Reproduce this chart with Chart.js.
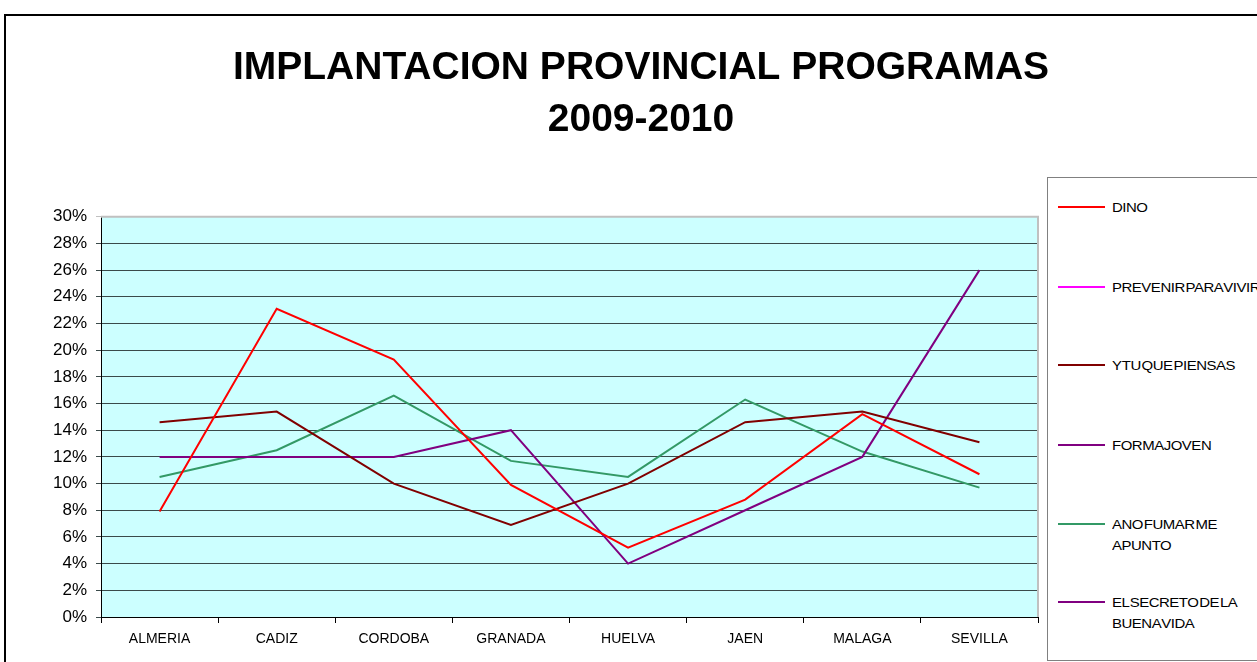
<!DOCTYPE html>
<html>
<head>
<meta charset="utf-8">
<script src="https://cdn.jsdelivr.net/npm/chart.js@4.4.0/dist/chart.umd.min.js"></script>
<style>
  body { margin: 0; background: #fff; width: 1257px; height: 662px; overflow: hidden; position: relative; font-family: "Liberation Sans", Arial, sans-serif; }
  #frame { position: absolute; left: 4px; top: 14px; width: 1300px; height: 700px; border: 2px solid #000; }
  #wrap { position: absolute; left: 0; top: 0; width: 1257px; height: 662px; }
  #legend { position: absolute; left: 1047px; top: 177px; width: 240px; height: 482px; border: 1px solid #808080; background: #fff; }
  .item { position: absolute; left: 10px; }
  .item .sw { position: absolute; left: 0; top: 9px; width: 47px; height: 2px; }
  .item .tx { position: absolute; left: 54px; top: 0; font-size: 13px; line-height: 21px; letter-spacing: -0.4px; word-spacing: -2.5px; white-space: nowrap; color: #000; transform: scaleX(1.15); transform-origin: 0 0; }
</style>
</head>
<body>
<div id="frame"></div>
<div id="wrap"><canvas id="myChart"></canvas></div>
<div id="legend"></div>
<script>
// categories
const provincias = ["ALMERIA", "CADIZ", "CORDOBA", "GRANADA", "HUELVA", "JAEN", "MALAGA", "SEVILLA"];

// series values (%)
const dino = [7.9, 23.1, 19.3, 9.9, 5.2, 8.8, 15.2, 10.7];
const prevenirParaVivir = [null, null, null, null, null, null, null, null];
const yTuQuePiensas = [14.6, 15.4, 10.0, 6.9, 10.0, 14.6, 15.4, 13.1];
const formaJoven = [12, 12, 12, 14, 4, 8, 12, 26];
const aNoFumar = [10.5, 12.5, 16.6, 11.7, 10.5, 16.3, 12.4, 9.7];
const elSecreto = [null, null, null, null, null, null, null, null];

// y axis ticks
const yMin = 0, yMax = 30, yStep = 2;

const series = [
  { label: "DINO", legend: ["DINO"], data: dino, color: "#FF0000" },
  { label: "PREVENIR PARA VIVIR", legend: ["PREVENIR PARA VIVIR"], data: prevenirParaVivir, color: "#FF00FF" },
  { label: "Y TU QUE PIENSAS", legend: ["Y TU QUE PIENSAS"], data: yTuQuePiensas, color: "#800000" },
  { label: "FORMA JOVEN", legend: ["FORMA JOVEN"], data: formaJoven, color: "#800080" },
  { label: "A NO FUMAR ME APUNTO", legend: ["A NO FUMAR ME", "APUNTO"], data: aNoFumar, color: "#339966" },
  { label: "EL SECRETO DE LA BUENA VIDA", legend: ["EL SECRETO DE LA", "BUENA VIDA"], data: elSecreto, color: "#800080" }
];

const plotBg = {
  id: 'plotBg',
  beforeDraw(chart) {
    const {ctx, chartArea: a} = chart;
    ctx.save();
    ctx.fillStyle = '#CCFFFF';
    ctx.fillRect(a.left, a.top, a.right - a.left, a.bottom - a.top);
    ctx.restore();
  },
  afterDraw(chart) {
    const {ctx, chartArea: a} = chart;
    ctx.save();
    ctx.strokeStyle = '#C0C0C0';
    ctx.lineWidth = 2;
    ctx.beginPath();
    ctx.moveTo(a.left, a.top);
    ctx.lineTo(a.right, a.top);
    ctx.lineTo(a.right, a.bottom);
    ctx.stroke();
    ctx.restore();
  }
};

const font = '"Liberation Sans", Arial, sans-serif';
const chartRef = document.getElementById('myChart').getContext('2d');
new Chart(chartRef, {
  type: 'line',
  data: {
    labels: provincias,
    datasets: series.map(s => ({
      label: s.label,
      data: s.data,
      borderColor: s.color,
      backgroundColor: s.color,
      borderWidth: 2,
      pointRadius: 0,
      tension: 0,
      fill: false
    }))
  },
  options: {
    responsive: true,
    maintainAspectRatio: false,
    animation: false,
    layout: { padding: { left: 32, right: 7, top: 0, bottom: 0 } },
    plugins: {
      legend: { display: false },
      tooltip: { enabled: false },
      title: {
        display: true,
        text: ["IMPLANTACION PROVINCIAL PROGRAMAS", "2009-2010"],
        color: '#000',
        font: { family: font, size: 39, weight: 'bold', lineHeight: 1.33 },
        padding: { top: 42, bottom: 71 }
      }
    },
    scales: {
      x: {
        offset: true,
        grid: { offset: true, drawOnChartArea: false, color: '#000', tickLength: 6 },
        border: { color: '#000', width: 1 },
        ticks: { color: '#000', font: { family: font, size: 14 }, padding: 8, maxRotation: 0 },
        afterFit(scale) { scale.height = 45; }
      },
      y: {
        min: yMin, max: yMax,
        ticks: { stepSize: yStep, color: '#000', font: { family: font, size: 17 }, padding: 9, callback: v => v + '%' },
        grid: {
          color: ctx => ctx.tick && ctx.tick.value === yMax ? '#C0C0C0' : '#3A4A4A',
          lineWidth: 1,
          tickLength: 5
        },
        border: { color: '#000', width: 1 },
        afterFit(scale) { scale.width = 69; }
      },
      // empty right-hand scale that keeps room for the legend box
      yRight: {
        position: 'right',
        min: yMin, max: yMax,
        ticks: { display: false },
        grid: { display: false },
        border: { display: false },
        afterFit(scale) { scale.width = 212; }
      }
    }
  },
  plugins: [plotBg]
});

// html legend built from the series list
const legendEl = document.getElementById('legend');
const itemTops = [19, 99, 177, 257, 336, 414];
series.forEach((s, i) => {
  const it = document.createElement('div');
  it.className = 'item';
  it.style.top = itemTops[i] + 'px';
  it.innerHTML = '<div class="sw" style="background:' + s.color + '"></div><div class="tx">' + s.legend.join('<br>') + '</div>';
  legendEl.appendChild(it);
});
</script>
</body>
</html>
